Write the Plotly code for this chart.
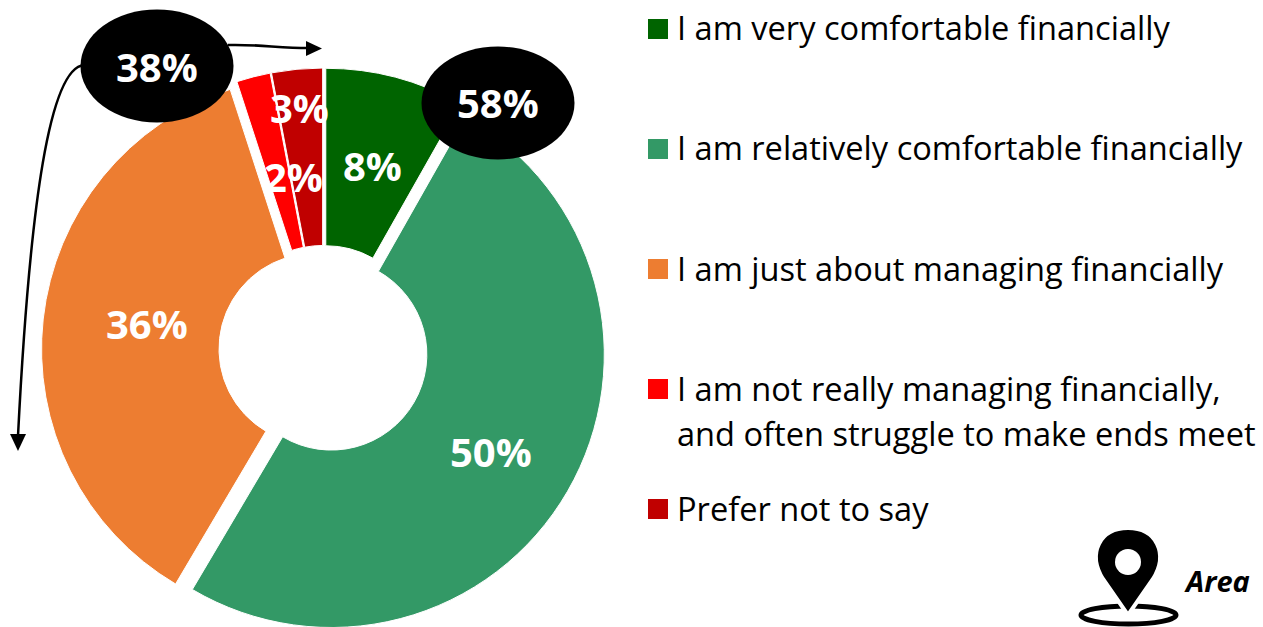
import plotly.graph_objects as go

W, H = 1263, 627
FIG_H = 640  # pie runs slightly past the window at the bottom

categories = [
    "I am very comfortable financially",
    "I am relatively comfortable financially",
    "I am just about managing financially",
    "I am not really managing financially,\nand often struggle to make ends meet",
    "Prefer not to say",
]
values = [8.2, 50.3, 36.5, 2.0, 3.0]
colors = ["#006400", "#339966", "#ED7D31", "#FF0000", "#C00000"]
slice_labels = ["8%", "50%", "36%", "2%", "3%"]
label_pos = [(372, 165), (491, 451), (147, 323), (293, 176), (299, 107)]
legend_rows = [29, 149, 269, 389, 509]
bubbles = [("38%", 157, 66), ("58%", 498, 103)]

FONT = "Open Sans"


def px(x):
    return x / W


def py(y):
    return 1 - y / FIG_H


def path(*parts):
    # parts are command letters and (x, y) pixel pairs
    out = []
    for p in parts:
        out.append(p if isinstance(p, str) else f"{px(p[0]):.5f},{py(p[1]):.5f}")
    return " ".join(out)


def shape_path(d, fill="black", line_color="black", line_width=0):
    return dict(type="path", xref="paper", yref="paper", path=d, fillcolor=fill,
                line=dict(color=line_color, width=line_width), layer="above")


def ellipse(x0, y0, x1, y1, fill="black", line_color="black", line_width=0):
    return dict(type="circle", xref="paper", yref="paper", x0=px(x0), x1=px(x1),
                y0=py(y1), y1=py(y0), fillcolor=fill,
                line=dict(color=line_color, width=line_width), layer="above")


def text(s, x, y, size, color="black", anchor="left", bold=False, italic=False):
    if bold:
        s = f"<b>{s}</b>"
    if italic:
        s = f"<i>{s}</i>"
    return dict(text=s, xref="paper", yref="paper", x=px(x), y=py(y), showarrow=False,
                xanchor=anchor, yanchor="middle",
                font=dict(family=FONT, size=size, color=color))


# every slice is exploded by the same amount
pull = 0.033
radius = 273
cx, cy = 323.5, 350
half = radius * (1 + pull)

fig = go.Figure(go.Pie(
    values=values,
    labels=[c.replace("\n", " ") for c in categories],
    sort=False,
    direction="clockwise",
    rotation=0,
    hole=0.35,
    pull=pull,
    textinfo="none",
    hoverinfo="label+percent",
    marker=dict(colors=colors, line=dict(color="white", width=1)),
    domain=dict(x=[px(cx - half), px(cx + half)], y=[py(cy + half), py(cy - half)]),
))

shapes = []
annotations = []

for s, (x, y) in zip(slice_labels, label_pos):
    annotations.append(text(s, x, y, 40, "white", "center", bold=True))

# legend
for c, col, y in zip(categories, colors, legend_rows):
    shapes.append(dict(type="rect", xref="paper", yref="paper", x0=px(648), x1=px(668),
                       y0=py(y + 10), y1=py(y - 10), fillcolor=col, line=dict(width=0)))
    for i, line in enumerate(c.split("\n")):
        annotations.append(text(line, 675, y - 1 + i * 45, 32.6))

# arrows from the 38% bubble
shapes.append(shape_path(path("M", (84, 65), "C", (50, 68), (30, 200), (18, 436)),
                         fill="rgba(0,0,0,0)", line_width=2.5))
shapes.append(shape_path(path("M", (10, 434), "L", (26, 434), "L", (18, 451), "Z")))
shapes.append(shape_path(path("M", (228, 45), "C", (255, 44), (280, 48), (308, 48)),
                         fill="rgba(0,0,0,0)", line_width=2.5))
shapes.append(shape_path(path("M", (306, 41), "L", (322, 48.5), "L", (306, 56), "Z")))

# bubbles
for s, x, y in bubbles:
    shapes.append(ellipse(x - 76.5, y - 56.5, x + 76.5, y + 56.5))
    annotations.append(text(s, x, y, 40, "white", "center", bold=True))

# location pin
shapes.append(ellipse(1081, 606, 1176, 624, fill="rgba(0,0,0,0)", line_width=5))
shapes.append(shape_path(
    path("M", (1128, 615), "L", (1103, 579),
         "C", (1087, 553), (1100, 528), (1128, 528),
         "C", (1156, 528), (1169, 553), (1153, 579), "Z"),
    line_color="white", line_width=4))
shapes.append(ellipse(1115, 549, 1141, 575, fill="white"))
annotations.append(text("Area", 1182, 580, 29, bold=True, italic=True))

fig.update_layout(
    width=W, height=FIG_H,
    autosize=False,
    margin=dict(l=0, r=0, t=0, b=0),
    showlegend=False,
    paper_bgcolor="white",
    shapes=shapes,
    annotations=annotations,
)

fig.write_html("out.html", config=dict(displayModeBar=False),
               post_script="document.body.style.margin='0';document.body.style.overflow='hidden';")
